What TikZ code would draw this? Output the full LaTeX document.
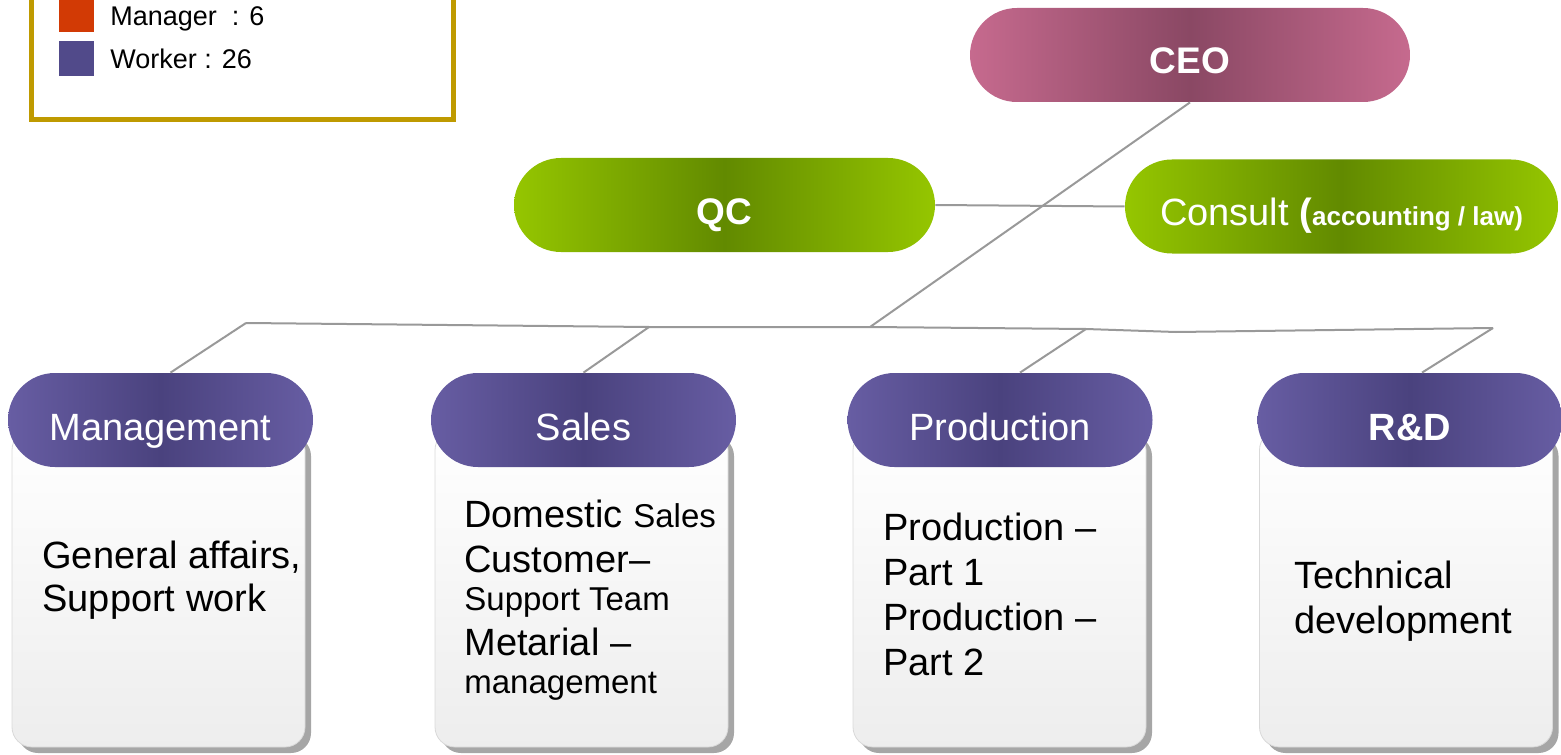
\documentclass[tikz,border=0pt]{standalone}
\usepackage{fontspec}
\setmainfont{Liberation Sans}
\usetikzlibrary{shadows,calc}
\definecolor{ceoL}{HTML}{C66A8E}
\definecolor{ceoD}{HTML}{8A4864}
\definecolor{grnL}{HTML}{95C600}
\definecolor{grnD}{HTML}{628A00}
\definecolor{purL}{HTML}{675DA3}
\definecolor{purD}{HTML}{4A427E}
\definecolor{gold}{HTML}{BF9A00}
\definecolor{mgrred}{HTML}{D23A05}
\definecolor{wkrpurple}{HTML}{514A8A}
\begin{document}
\begin{tikzpicture}[x=0.5pt, y=-0.5pt,
  pill/.style={rounded corners=23.5pt, minimum height=47pt, text=white, inner sep=0pt, text height=19pt, text depth=0pt},
  chief/.style={pill, minimum width=220pt, left color=ceoL, right color=ceoL, middle color=ceoD, font=\fontsize{18.5}{22}\selectfont\bfseries},
  staff/.style={pill, left color=grnL, right color=grnL, middle color=grnD, font=\fontsize{19}{22}\selectfont},
  dept/.style={pill, minimum width=152.5pt, text height=20pt, left color=purL, right color=purL, middle color=purD, font=\fontsize{19}{22}\selectfont},
  card/.style={rounded corners=10pt, minimum width=146.5pt, minimum height=158.5pt, top color=white, bottom color=black!7, draw=black!15,
    drop shadow={shadow xshift=3pt, shadow yshift=-3pt, fill=black!35, opacity=1}},
  body/.style={anchor=base west, align=left, inner sep=0pt, font=\fontsize{19}{22.5}\selectfont},
  key/.style={minimum size=17.5pt, inner sep=0pt},
  keytext/.style={anchor=base west, inner sep=0pt, font=\fontsize{13.5}{16}\selectfont},
  link/.style={draw=black!40, line width=1pt}
]
\useasboundingbox (0,0) rectangle (1561,754);

% legend
\draw[gold, line width=2.5pt] (31.5,-20) rectangle (453.5,119.5);
\node[key, fill=mgrred] (mgrkey) at (76.5,14.5) {};
\node[key, fill=wkrpurple] (wkrkey) at (76.5,58.5) {};
\node[keytext] (mgrtext) at (110,26) {Manager\ \ : 6};
\node[keytext] (wkrtext) at (110,69) {Worker : 26};

% top of the chart
\node[chief] (ceo) at (1190,55) {CEO};
\node[staff, minimum width=210.5pt, font=\fontsize{18.5}{22}\selectfont\bfseries] (qc) at (724.5,205) {QC};
\node[staff, minimum width=216.5pt] (consult) at (1341.5,206.5)
  {Consult {\bfseries(}{\fontsize{13}{15}\selectfont\bfseries accounting / law)}};

% cards
\node[card] (mgmtcard) at (158.5,588.5) {};
\node[card] (salescard) at (581.5,588.5) {};
\node[card] (prodcard) at (999.5,588.5) {};
\node[card] (rdcard) at (1406,588.5) {};

% department heads
\node[dept] (mgmt) at (160.5,420) {Management};
\node[dept] (sales) at (583.5,420) {Sales};
\node[dept] (prod) at (1000,420) {Production};
\node[dept, font=\fontsize{19}{22}\selectfont\bfseries] (rd) at (1410,420) {R\&D};

% texts sit on the baseline of their last line
\node[body] (mgmttxt) at (42,611) {General affairs,\\[-1pt]Support work};
\node[body] (salestxt) at (464,693) {Domestic {\fontsize{16.5}{19}\selectfont Sales}\\
  Customer–\\[-3.5pt]
  {\fontsize{16.5}{19}\selectfont Support Team}\\
  Metarial –\\[-3.5pt]
  {\fontsize{16.5}{19}\selectfont management}};
\node[body] (prodtxt) at (883,675) {Production –\\Part 1\\Production –\\Part 2};
\node[body] (rdtxt) at (1294,633) {Technical\\development};

% connectors
\coordinate (busL) at (246,323);
\coordinate (busS) at (649,327);
\coordinate (busC) at (870,327);
\coordinate (busP) at (1086,329);
\coordinate (busD) at (1176,332);
\coordinate (busR) at (1493,328);
\draw[link] (qc.east) -- (consult.west);
\draw[link] (ceo.south) -- (busC);
\draw[link] (busL) -- (busS) -- (busC) -- (busP) -- (busD) -- (busR);
\draw[link] (busL) -- ([xshift=5pt]mgmt.north);
\draw[link] (busS) -- (sales.north);
\draw[link] (busP) -- ([xshift=10pt]prod.north);
\draw[link] (busR) -- ([xshift=6pt]rd.north);
\end{tikzpicture}
\end{document}
